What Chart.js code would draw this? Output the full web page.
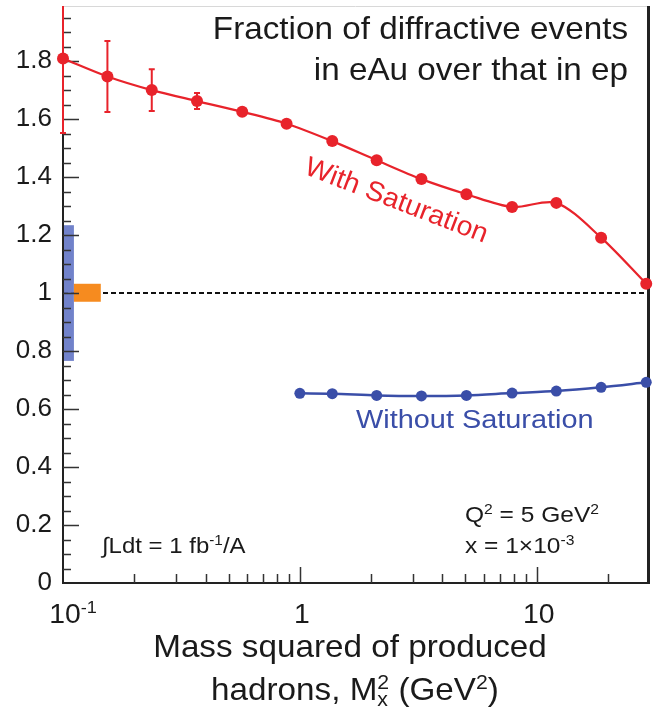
<!DOCTYPE html>
<html>
<head>
<meta charset="utf-8">
<script src="https://cdn.jsdelivr.net/npm/chart.js@4.4.1/dist/chart.umd.min.js"></script>
<style>
  html, body { margin: 0; padding: 0; background: #fff; }
  canvas { display: block; }
</style>
</head>
<body>
<canvas id="myChart" width="654" height="709"></canvas>
<script>
// eAu / ep diffractive ratio vs M_X^2 (GeV^2)
const satX = [0.1, 0.154, 0.237, 0.368, 0.571, 0.879, 1.37, 2.11, 3.26, 5.05, 7.87, 12.1, 18.7, 29.0];
const satY = [1.809, 1.747, 1.700, 1.662, 1.625, 1.584, 1.524, 1.458, 1.393, 1.341, 1.297, 1.311, 1.191, 1.032];

// stat. error bars on the first red points
const errX = [0.1, 0.154, 0.237, 0.368];
const errLo = [1.552, 1.624, 1.628, 1.635];
const errHi = [2.1, 1.869, 1.772, 1.69];

const noSatX = [1.0, 1.37, 2.11, 3.26, 5.05, 7.87, 12.1, 18.7, 29.0];
const noSatY = [0.654, 0.653, 0.647, 0.645, 0.647, 0.655, 0.662, 0.675, 0.692];

// systematic boxes at the left edge
const blueBoxX = [0.1, 0.1112];
const blueBoxY = [0.766, 1.234];
const orangeBoxX = [0.1112, 0.1444];
const orangeBoxY = [0.970, 1.032];

const refLevel = 1;

const yTicks = [0, 0.2, 0.4, 0.6, 0.8, 1, 1.2, 1.4, 1.6, 1.8];
const yTickLabels = ["0", "0.2", "0.4", "0.6", "0.8", "1", "1.2", "1.4", "1.6", "1.8"];
const yMinorStep = 0.05;
const xMajorTicks = [0.1, 1, 10];
const xMinorTicks = [0.2, 0.3, 0.4, 0.5, 0.6, 0.7, 0.8, 0.9, 2, 3, 4, 5, 6, 7, 8, 9, 20];
const xTickLabels = [[["10", 0], ["-1", 1]], [["1", 0]], [["10", 0]]];

const FONT = '"Liberation Sans", Arial, sans-serif';
const RED = "#e8232b";
const BLUE = "#3a4ea8";

// draw text made of runs: [text, 0 normal | 1 sup | -1 sub] or [sup, sub, 2] stacked
function drawRich(ctx, runs, x, y, fs, align, hs) {
  ctx.save();
  ctx.translate(x, y);
  ctx.scale(hs, 1);
  ctx.textBaseline = "alphabetic";
  ctx.textAlign = "left";
  const small = fs * 0.64;
  let widths = runs.map((r) => {
    if (r[2] === 2) {
      ctx.font = small + "px " + FONT;
      return Math.max(ctx.measureText(r[0]).width, ctx.measureText(r[1]).width);
    }
    ctx.font = (r[1] === 0 ? fs : small) + "px " + FONT;
    return ctx.measureText(r[0]).width;
  });
  let w = widths.reduce((a, b) => a + b, 0);
  let cx = align === "right" ? -w : align === "center" ? -w / 2 : 0;
  runs.forEach((r, i) => {
    if (r[2] === 2) {
      ctx.font = small + "px " + FONT;
      ctx.fillText(r[0], cx, -fs * 0.36);
      ctx.fillText(r[1], cx, fs * 0.2);
    } else if (r[1] === 0) {
      ctx.font = fs + "px " + FONT;
      ctx.fillText(r[0], cx, 0);
    } else {
      ctx.font = small + "px " + FONT;
      ctx.fillText(r[0], cx, r[1] === 1 ? -fs * 0.36 : fs * 0.2);
    }
    cx += widths[i];
  });
  ctx.restore();
}

const framePlugin = {
  id: "frame",
  beforeDatasetsDraw(chart) {
    const ctx = chart.ctx;
    const a = chart.chartArea;
    const xs = chart.scales.x;
    const ys = chart.scales.y;
    ctx.save();

    // reference line at 1
    const yr = ys.getPixelForValue(refLevel);
    ctx.strokeStyle = "#111";
    ctx.lineWidth = 2;
    ctx.setLineDash([5, 3]);
    ctx.beginPath();
    ctx.moveTo(a.left, yr);
    ctx.lineTo(a.right, yr);
    ctx.stroke();
    ctx.setLineDash([]);

    // boxes
    ctx.fillStyle = "rgba(98,116,196,0.9)";
    let x0 = xs.getPixelForValue(blueBoxX[0]) - 1, x1 = xs.getPixelForValue(blueBoxX[1]);
    let y0 = ys.getPixelForValue(blueBoxY[1]), y1 = ys.getPixelForValue(blueBoxY[0]);
    ctx.fillRect(x0, y0, x1 - x0, y1 - y0);
    ctx.fillStyle = "#f68b1f";
    x0 = xs.getPixelForValue(orangeBoxX[0]); x1 = xs.getPixelForValue(orangeBoxX[1]);
    y0 = ys.getPixelForValue(orangeBoxY[1]); y1 = ys.getPixelForValue(orangeBoxY[0]);
    ctx.fillRect(x0, y0, x1 - x0, y1 - y0);

    // frame
    ctx.strokeStyle = "#d8d8d8";
    ctx.lineWidth = 1;
    ctx.beginPath();
    ctx.moveTo(a.left, a.top + 0.5);
    ctx.lineTo(a.right, a.top + 0.5);
    ctx.stroke();
    ctx.strokeStyle = "#222";
    ctx.lineWidth = 3;
    ctx.beginPath();
    ctx.moveTo(a.right + 0.5, a.top);
    ctx.lineTo(a.right + 0.5, a.bottom);
    ctx.stroke();
    ctx.lineWidth = 2;
    ctx.beginPath();
    ctx.moveTo(a.left, a.top);
    ctx.lineTo(a.left, a.bottom);
    ctx.lineTo(a.right + 2, a.bottom);
    ctx.stroke();

    // inside ticks
    ctx.lineWidth = 1.5;
    ctx.strokeStyle = "#333";
    ctx.beginPath();
    for (let k = 1; k * yMinorStep < ys.max; k++) {
      const v = k * yMinorStep;
      const py = Math.round(ys.getPixelForValue(v)) + 0.5;
      const len = k % 4 === 0 ? 16 : 8;
      ctx.moveTo(a.left, py);
      ctx.lineTo(a.left + len, py);
    }
    xMajorTicks.forEach((v) => {
      if (v <= xs.min) return;
      const px = Math.round(xs.getPixelForValue(v)) + 0.5;
      ctx.moveTo(px, a.bottom);
      ctx.lineTo(px, a.bottom - 16);
    });
    xMinorTicks.forEach((v) => {
      const px = Math.round(xs.getPixelForValue(v)) + 0.5;
      ctx.moveTo(px, a.bottom);
      ctx.lineTo(px, a.bottom - 9);
    });
    ctx.stroke();

    // error bars
    ctx.beginPath();
    ctx.rect(a.left - 10, a.top, a.right - a.left + 20, a.bottom - a.top);
    ctx.clip();
    ctx.strokeStyle = RED;
    ctx.lineWidth = 2;
    ctx.beginPath();
    errX.forEach((v, i) => {
      const px = xs.getPixelForValue(v);
      const pl = ys.getPixelForValue(errLo[i]);
      const ph = ys.getPixelForValue(errHi[i]);
      ctx.moveTo(px, pl);
      ctx.lineTo(px, ph);
      ctx.moveTo(px - 3, pl);
      ctx.lineTo(px + 3, pl);
      ctx.moveTo(px - 3, ph);
      ctx.lineTo(px + 3, ph);
    });
    ctx.stroke();
    ctx.restore();
  },
  afterDraw(chart) {
    const ctx = chart.ctx;
    const xs = chart.scales.x;
    ctx.save();
    ctx.fillStyle = "#1a1a1a";

    // x tick labels
    xMajorTicks.forEach((v, i) => {
      const px = xs.getPixelForValue(v);
      ctx.font = "27px " + FONT;
      const w0 = ctx.measureText(xTickLabels[i][0][0]).width * 1.05;
      drawRich(ctx, xTickLabels[i], px - w0 / 2 + 2, 623, 27, "left", 1.05);
    });

    // axis title
    drawRich(ctx, [["Mass squared of produced", 0]], 350, 657, 30.5, "center", 1.09);
    drawRich(ctx, [["hadrons, M", 0], ["2", "x", 2], [" (GeV", 0], ["2", 1], [")", 0]], 355, 700, 30.5, "center", 1.09);

    // header
    drawRich(ctx, [["Fraction of diffractive events", 0]], 628, 39, 30.5, "right", 1.09);
    drawRich(ctx, [["in eAu over that in ep", 0]], 628, 80, 30.5, "right", 1.09);

    // conditions
    drawRich(ctx, [["\u222BLdt = 1 fb", 0], ["-1", 1], ["/A", 0]], 102, 553, 22, "left", 1.09);
    drawRich(ctx, [["Q", 0], ["2", 1], [" = 5 GeV", 0], ["2", 1]], 465, 522, 22.5, "left", 1.09);
    drawRich(ctx, [["x = 1\u00D710", 0], ["-3", 1]], 465, 553, 22.5, "left", 1.09);

    // curve labels
    ctx.fillStyle = BLUE;
    drawRich(ctx, [["Without Saturation", 0]], 356, 428, 26.5, "left", 1.09);
    ctx.fillStyle = RED;
    ctx.translate(397, 199);
    ctx.rotate((21 * Math.PI) / 180);
    drawRich(ctx, [["With Saturation", 0]], 0, 27.5 * 0.36, 27.5, "center", 1.03);
    ctx.restore();
  },
};

const config = {
  type: "scatter",
  data: {
    datasets: [
      {
        label: "With Saturation",
        data: satX.map((x, i) => ({ x: x, y: satY[i] })),
        showLine: true,
        borderColor: RED,
        backgroundColor: RED,
        borderWidth: 2.2,
        pointRadius: 6,
        pointBorderWidth: 0,
        tension: 0.3,
        clip: false,
      },
      {
        label: "Without Saturation",
        data: noSatX.map((x, i) => ({ x: x, y: noSatY[i] })),
        showLine: true,
        borderColor: BLUE,
        backgroundColor: BLUE,
        borderWidth: 2.5,
        pointRadius: 5.5,
        pointBorderWidth: 0,
        tension: 0.3,
        clip: false,
      },
    ],
  },
  options: {
    responsive: false,
    animation: false,
    events: [],
    layout: { padding: { top: 5, right: 6, left: 0, bottom: 0 } },
    plugins: { legend: { display: false }, tooltip: { enabled: false } },
    scales: {
      x: {
        type: "logarithmic",
        min: 0.1,
        max: 29.5,
        afterBuildTicks: (s) => { s.ticks = xMajorTicks.map((v) => ({ value: v })); },
        afterFit: (s) => { s.height = 126; s.paddingLeft = 0; s.paddingRight = 0; },
        ticks: { display: false },
        grid: { display: false, drawTicks: false },
        border: { display: false },
      },
      y: {
        min: 0,
        max: 1.99,
        afterBuildTicks: (s) => { s.ticks = yTicks.map((v) => ({ value: v })); },
        afterFit: (s) => { s.width = 63; s.paddingTop = 0; s.paddingBottom = 0; },
        ticks: {
          autoSkip: false,
          padding: 11,
          color: "#1a1a1a",
          font: { family: FONT, size: 26 },
          callback: (v, i) => yTickLabels[i],
        },
        grid: { display: false, drawTicks: false },
        border: { display: false },
      },
    },
  },
  plugins: [framePlugin],
};

new Chart(document.getElementById("myChart"), config);
</script>
</body>
</html>
